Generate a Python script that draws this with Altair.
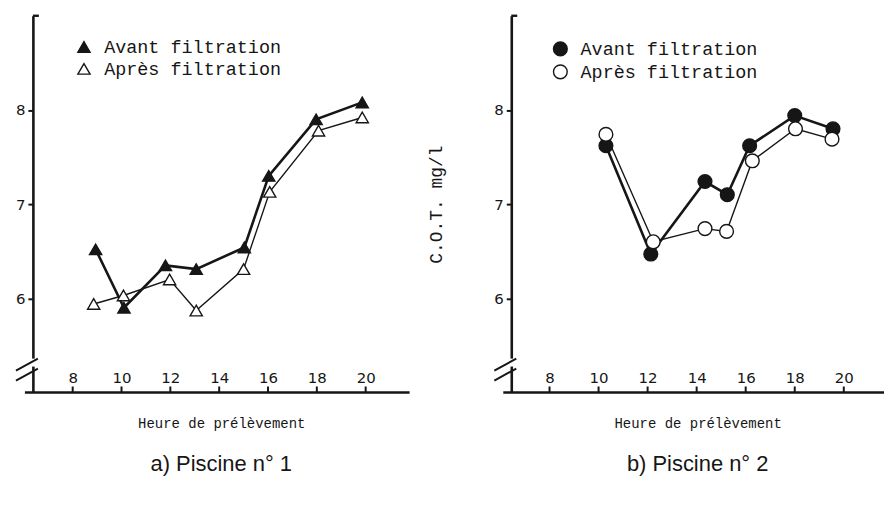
import altair as alt
import pandas as pd

# ---------------- data ----------------
hour_ticks = [8, 10, 12, 14, 16, 18, 20]
cot_ticks = [6, 7, 8]
series_names = ["Avant filtration", "Après filtration"]

p1_avant_h = [8.94, 10.1, 11.8, 13.06, 15.03, 16.03, 17.97, 19.86]
p1_avant_v = [6.52, 5.90, 6.35, 6.31, 6.54, 7.30, 7.90, 8.08]
p1_apres_h = [8.86, 10.08, 11.97, 13.06, 15.0, 16.07, 18.07, 19.86]
p1_apres_v = [5.94, 6.03, 6.20, 5.87, 6.31, 7.13, 7.78, 7.92]

p2_avant_h = [10.3, 12.13, 14.34, 15.25, 16.16, 18.0, 19.56]
p2_avant_v = [7.62, 6.47, 7.24, 7.10, 7.62, 7.94, 7.80]
p2_apres_h = [10.3, 12.23, 14.34, 15.22, 16.27, 18.03, 19.52]
p2_apres_v = [7.74, 6.60, 6.74, 6.71, 7.46, 7.80, 7.69]

panel_titles = ["a) Piscine n° 1", "b) Piscine n° 2"]
x_title = "Heure de prélèvement"
y_title = "C.O.T. mg/l"

INK = "#161616"
MONO = "Liberation Mono"
TICKFONT = "DejaVu Sans"
TITLEFONT = "Liberation Sans Narrow, Liberation Sans"
H = 378


def make_df(ah, av, ph, pv):
    rows = [{"heure": h, "cot": v, "serie": series_names[0]} for h, v in zip(ah, av)]
    rows += [{"heure": h, "cot": v, "serie": series_names[1]} for h, v in zip(ph, pv)]
    return pd.DataFrame(rows)


def panel(df, shape, size, xdom, width, title, lx, ly, with_ytitle):
    xs = alt.Scale(domain=xdom, nice=False, zero=False)
    ys = alt.Scale(domain=[5, 9], nice=False, zero=False)
    x_axis = alt.Axis(values=hour_ticks, ticks=False, domain=False, grid=False,
                      labelPadding=-7, labelBaseline="bottom", labelFont=TICKFONT,
                      labelFontSize=15, labelColor=INK, labelFlush=False,
                      title=x_title, titleFont=MONO, titleFontSize=14,
                      titleFontWeight="normal", titleColor=INK, titlePadding=24)
    yk = dict(values=cot_ticks, grid=False, domainWidth=2.6, domainColor=INK,
              tickWidth=2, tickSize=5, tickColor=INK, labelPadding=3,
              labelFont=TICKFONT, labelFontSize=15, labelColor=INK)
    if with_ytitle:
        yk.update(title=y_title, titleFont=MONO, titleFontSize=18,
                  titleFontWeight="normal", titleColor=INK, titlePadding=48)
    else:
        yk.update(title=None)
    y_axis = alt.Axis(**yk)

    X = alt.X("heure:Q", scale=xs, axis=x_axis)
    Y = alt.Y("cot:Q", scale=ys, axis=y_axis)

    base = alt.Chart(df)
    line_av = base.transform_filter(alt.datum.serie == series_names[0]).mark_line(
        color=INK, strokeWidth=2.6).encode(x=X, y=Y)
    line_ap = base.transform_filter(alt.datum.serie == series_names[1]).mark_line(
        color=INK, strokeWidth=1.4).encode(x=X, y=Y)
    pts = base.mark_point(shape=shape, size=size, filled=True, stroke=INK,
                          strokeWidth=1.4, opacity=1).encode(
        x=X, y=Y,
        fill=alt.Fill("serie:N",
                      scale=alt.Scale(domain=series_names, range=[INK, "white"]),
                      legend=alt.Legend(orient="none", legendX=lx, legendY=ly,
                                        title=None, symbolType=shape,
                                        symbolSize=size, symbolStrokeColor=INK,
                                        symbolStrokeWidth=1.4, symbolOpacity=1,
                                        labelFont=MONO, labelFontSize=18.5,
                                        labelColor=INK, labelOffset=11,
                                        labelLimit=400,
                                        rowPadding=3, padding=0)))

    one = alt.Chart(pd.DataFrame({"k": [0]}))
    ticks_df = pd.DataFrame({"heure": hour_ticks})
    xticks = alt.Chart(ticks_df).mark_rule(color=INK, strokeWidth=2).encode(
        x=alt.X("heure:Q", scale=xs), y=alt.value(H), y2=alt.value(H - 6))
    xline = one.mark_rule(color=INK, strokeWidth=2.6).encode(
        x=alt.value(-8), x2=alt.value(width), y=alt.value(H))
    gap = one.mark_rule(color="white", strokeWidth=5).encode(
        x=alt.value(0), y=alt.value(H - 34), y2=alt.value(H - 26))
    brk1 = one.mark_rule(color=INK, strokeWidth=2).encode(
        x=alt.value(-17), x2=alt.value(5), y=alt.value(H - 22), y2=alt.value(H - 34))
    brk2 = one.mark_rule(color=INK, strokeWidth=2).encode(
        x=alt.value(-17), x2=alt.value(5), y=alt.value(H - 12), y2=alt.value(H - 24))
    serif = one.mark_rule(color=INK, strokeWidth=2.4).encode(
        x=alt.value(0), x2=alt.value(6), y=alt.value(0))

    return alt.layer(gap, line_ap, line_av, pts, xticks, xline, brk1, brk2, serif).properties(
        width=width, height=H,
        title=alt.TitleParams(title, orient="bottom", font=TITLEFONT, fontSize=22,
                              fontWeight="normal", color=INK, offset=24))


df1 = make_df(p1_avant_h, p1_avant_v, p1_apres_h, p1_apres_v)
df2 = make_df(p2_avant_h, p2_avant_v, p2_apres_h, p2_apres_v)

left = panel(df1, "triangle-up", 150, [6.37, 21.8], 378, panel_titles[0], 42, 22, False)
right = panel(df2, "circle", 190, [6.44, 21.64], 374, panel_titles[1], 40, 24, True)

chart = alt.hconcat(left, right, spacing=16).resolve_scale(
    fill="independent", x="independent", y="independent"
).resolve_legend(fill="independent").properties(
    padding={"left": 15, "top": 13, "right": 0, "bottom": 5},
    background="white",
).configure_view(stroke=None)

chart.save("out.html", embed_options={"renderer": "svg", "actions": False})
